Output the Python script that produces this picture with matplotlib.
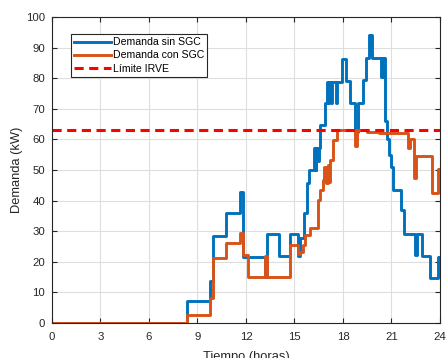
import matplotlib.pyplot as plt

plt.rcParams['font.family'] = ['Liberation Sans', 'DejaVu Sans']

# Demanda sin sistema de gestion de carga (escalones, hora de inicio -> kW)
t_sin = [0, 8.33, 9.8, 9.95, 10.76, 11.6, 11.8, 13.15, 13.3, 14.05, 14.72, 15.2,
         15.35, 15.6, 15.8, 15.9, 16.2, 16.3, 16.35, 16.45, 16.5, 16.6, 16.9, 17.0,
         17.1, 17.15, 17.25, 17.3, 17.55, 17.6, 17.95, 18.2, 18.45, 18.75, 18.95,
         19.25, 19.4, 19.6, 19.65, 19.7, 19.8, 20.35, 20.4, 20.45, 20.5, 20.6,
         20.75, 20.85, 20.95, 21.1, 21.6, 21.8, 22.45, 22.55, 22.9, 23.4, 23.9, 24]
d_sin = [0, 7.2, 13.8, 28.4, 36.0, 42.9, 21.5, 15.0, 29.0, 21.8, 29.0, 22.0,
         27.7, 36.0, 45.7, 50.0, 57.3, 50.0, 57.3, 53.0, 57.3, 64.7, 71.8, 78.9,
         71.8, 78.9, 72.0, 78.9, 72.0, 78.9, 86.4, 79.0, 72.0, 62.5, 72.0,
         79.5, 86.7, 94.2, 88.0, 94.2, 86.7, 80.5, 86.7, 80.5, 86.7, 66.0,
         60.0, 55.0, 51.0, 43.5, 37.0, 29.0, 22.2, 29.0, 21.9, 14.5, 21.6, 21.6]

# Demanda con sistema de gestion de carga
t_con = [0, 8.33, 9.8, 9.95, 10.76, 11.6, 11.8, 12.1, 13.15, 13.3, 14.72, 15.2,
         15.35, 15.5, 15.65, 15.95, 16.45, 16.6, 16.78, 16.85, 16.95, 17.05, 17.15,
         17.2, 17.36, 17.6, 18.75, 18.85, 19.5, 20.2, 20.7, 22.05, 22.15, 22.4,
         22.5, 23.48, 23.9, 24]
d_con = [0, 2.5, 8.0, 21.1, 26.0, 29.3, 22.2, 15.0, 21.8, 15.0, 25.4, 22.6,
         23.3, 25.4, 28.7, 30.9, 40.2, 43.5, 46.7, 51.0, 45.8, 51.5, 46.0,
         53.3, 59.8, 63.0, 58.0, 63.0, 62.5, 62.2, 62.0, 57.2, 60.0, 47.4,
         54.6, 42.6, 50.4, 50.4]

limite_irve = 63

fig = plt.figure(figsize=(4.47, 3.58), dpi=100)
ax = fig.add_axes([0.1163, 0.0986, 0.868, 0.853])

ax.plot(t_sin, d_sin, drawstyle='steps-post', color='#0072BD', lw=2.1,
        label='Demanda sin SGC')
ax.plot(t_con, d_con, drawstyle='steps-post', color='#D95319', lw=2.1,
        label='Demanda con SGC')
ax.plot([0, 24], [limite_irve, limite_irve], color='#FF0000', lw=2.2,
        dashes=(3, 1.8), label='Límite IRVE')

ax.set_xlim(0, 24)
ax.set_ylim(0, 100)
ax.set_xticks(range(0, 25, 3))
ax.set_yticks(range(0, 101, 10))
ax.grid(True, color='#dedede', lw=0.8)
ax.set_axisbelow(True)

ax.tick_params(direction='in', top=True, right=True, length=3.5, width=0.8,
               labelsize=8.2, colors='#262626')
ax.tick_params(axis='x', pad=7)
ax.tick_params(axis='y', pad=5)
for s in ax.spines.values():
    s.set_color('#262626')
    s.set_linewidth(0.8)

ax.set_xlabel('Tiempo (horas)', fontsize=9.3, color='#262626', labelpad=6)
ax.set_ylabel('Demanda (kW)', fontsize=9.3, color='#262626', labelpad=2)

leg = ax.legend(loc='upper left', bbox_to_anchor=(0.048, 0.945), fontsize=7.6,
                handlelength=3.5, handletextpad=0.2, labelspacing=0.3,
                borderpad=0.3, borderaxespad=0, fancybox=False, framealpha=1)
leg.get_frame().set_edgecolor('#262626')
leg.get_frame().set_linewidth(0.8)

fig.savefig('out.png', dpi=100)
